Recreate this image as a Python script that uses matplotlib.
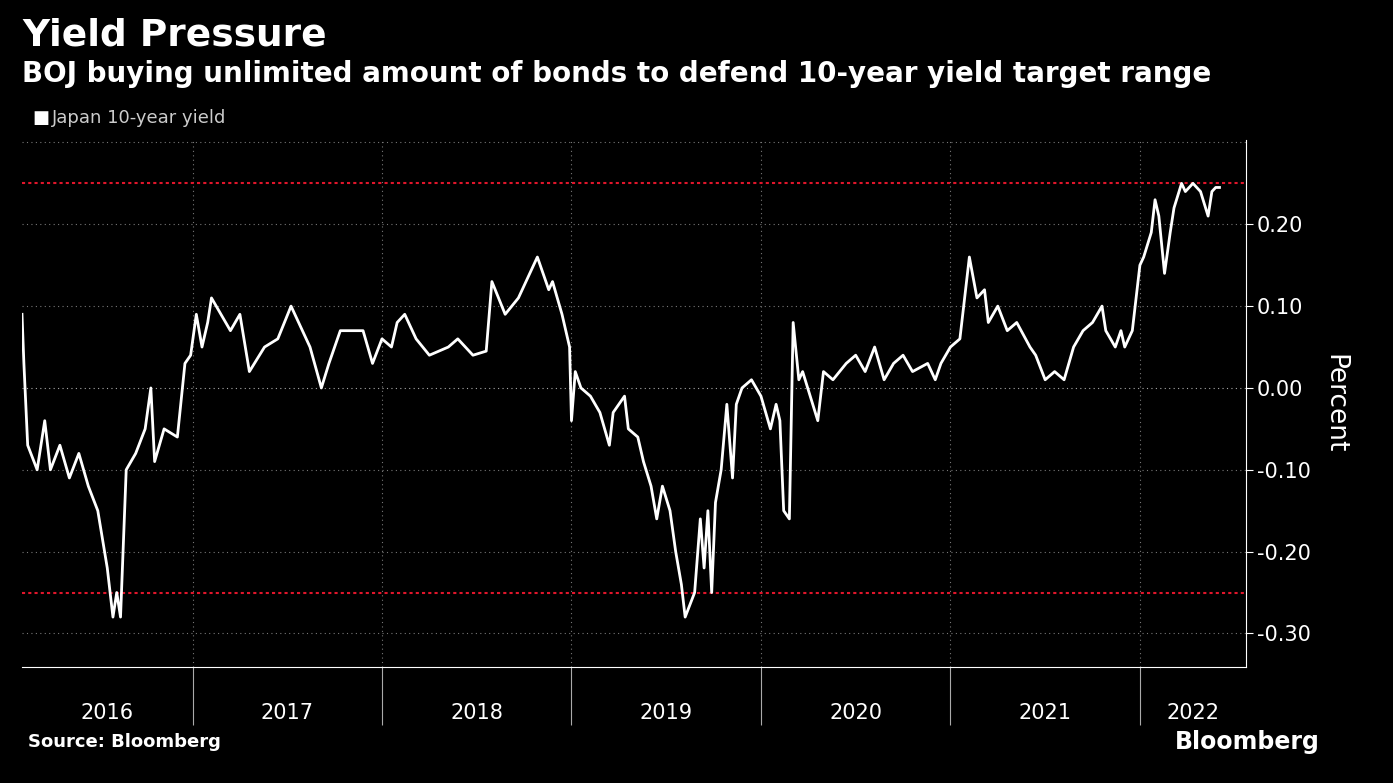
import matplotlib.pyplot as plt
import numpy as np

# Japan 10-year yield (decimal year, percent)
years = [2016.10, 2016.11, 2016.13, 2016.18, 2016.22, 2016.25, 2016.30, 2016.35, 2016.40, 2016.45,
         2016.50, 2016.55, 2016.58, 2016.60, 2016.62, 2016.65, 2016.70, 2016.75, 2016.78, 2016.80,
         2016.85, 2016.92, 2016.96, 2016.99, 2017.02, 2017.05, 2017.08, 2017.10, 2017.20, 2017.25,
         2017.30, 2017.38, 2017.45, 2017.52, 2017.58, 2017.62, 2017.68, 2017.72, 2017.78, 2017.90,
         2017.95, 2018.00, 2018.05, 2018.08, 2018.12, 2018.18, 2018.25, 2018.35, 2018.40, 2018.48,
         2018.55, 2018.58, 2018.65, 2018.72, 2018.80, 2018.82, 2018.88, 2018.90, 2018.95, 2018.99,
         2019.00, 2019.02, 2019.05, 2019.10, 2019.15, 2019.20, 2019.22, 2019.28, 2019.30, 2019.35,
         2019.38, 2019.42, 2019.45, 2019.48, 2019.52, 2019.55, 2019.58, 2019.60, 2019.65, 2019.68,
         2019.70, 2019.72, 2019.74, 2019.76, 2019.79, 2019.82, 2019.85, 2019.87, 2019.90, 2019.95,
         2020.00, 2020.05, 2020.08, 2020.10, 2020.12, 2020.15, 2020.17, 2020.20, 2020.22, 2020.30,
         2020.33, 2020.38, 2020.45, 2020.50, 2020.55, 2020.60, 2020.65, 2020.70, 2020.75, 2020.80,
         2020.88, 2020.92, 2020.95, 2021.00, 2021.05, 2021.10, 2021.14, 2021.18, 2021.20, 2021.25,
         2021.30, 2021.35, 2021.42, 2021.45, 2021.50, 2021.55, 2021.60, 2021.65, 2021.70, 2021.75,
         2021.80, 2021.82, 2021.87, 2021.90, 2021.92, 2021.96, 2022.00, 2022.02, 2022.06, 2022.08,
         2022.10, 2022.13, 2022.16, 2022.18, 2022.22, 2022.24, 2022.28, 2022.32, 2022.36, 2022.38,
         2022.40, 2022.42]
yields = [0.09, 0.03, -0.07, -0.10, -0.04, -0.10, -0.07, -0.11, -0.08, -0.12,
          -0.15, -0.22, -0.28, -0.25, -0.28, -0.10, -0.08, -0.05, 0.00, -0.09,
          -0.05, -0.06, 0.03, 0.04, 0.09, 0.05, 0.08, 0.11, 0.07, 0.09,
          0.02, 0.05, 0.06, 0.10, 0.07, 0.05, 0.00, 0.03, 0.07, 0.07,
          0.03, 0.06, 0.05, 0.08, 0.09, 0.06, 0.04, 0.05, 0.06, 0.04,
          0.045, 0.13, 0.09, 0.11, 0.15, 0.16, 0.12, 0.13, 0.09, 0.05,
          -0.04, 0.02, 0.00, -0.01, -0.03, -0.07, -0.03, -0.01, -0.05, -0.06,
          -0.09, -0.12, -0.16, -0.12, -0.15, -0.20, -0.24, -0.28, -0.25, -0.16,
          -0.22, -0.15, -0.25, -0.14, -0.10, -0.02, -0.11, -0.02, 0.00, 0.01,
          -0.01, -0.05, -0.02, -0.04, -0.15, -0.16, 0.08, 0.01, 0.02, -0.04,
          0.02, 0.01, 0.03, 0.04, 0.02, 0.05, 0.01, 0.03, 0.04, 0.02,
          0.03, 0.01, 0.03, 0.05, 0.06, 0.16, 0.11, 0.12, 0.08, 0.10,
          0.07, 0.08, 0.05, 0.04, 0.01, 0.02, 0.01, 0.05, 0.07, 0.08,
          0.10, 0.07, 0.05, 0.07, 0.05, 0.07, 0.15, 0.16, 0.19, 0.23,
          0.21, 0.14, 0.19, 0.22, 0.25, 0.24, 0.25, 0.24, 0.21, 0.24,
          0.245, 0.245]
target_band = [-0.25, 0.25]
y_ticks = [-0.30, -0.20, -0.10, 0.00, 0.10, 0.20]
year_labels = ["2016", "2017", "2018", "2019", "2020", "2021", "2022"]

W, H = 1393, 783
fig = plt.figure(figsize=(W / 100, H / 100), dpi=100, facecolor="black")
ax = fig.add_axes([22 / W, 1 - 667 / H, 1224 / W, 527 / H], facecolor="black")

x0, x1 = 2016.10, 2022.56
ax.set_xlim(x0, x1)
ax.set_ylim(-0.341, 0.303)

for v in np.arange(-0.3, 0.31, 0.1):
    ax.axhline(v, color="#777777" if abs(v) > 1e-9 else "#aaaaaa",
               ls=(0, (1, 3)), lw=0.8, zorder=1)
for b in range(2017, 2023):
    ax.axvline(b, color="#777777", ls=(0, (1, 3)), lw=0.8, zorder=1)
for v in target_band:
    ax.axhline(v, color="#e0162b", ls=(0, (1.5, 1.5)), lw=1.5, zorder=2)

ax.plot(years, yields, color="white", lw=2, zorder=3)

for s in ["top", "left"]:
    ax.spines[s].set_visible(False)
ax.spines["right"].set_color("white")
ax.spines["bottom"].set_color("white")
ax.yaxis.tick_right()
ax.set_yticks(y_ticks)
ax.set_yticklabels([f"{v:.2f}" for v in y_ticks])
ax.tick_params(axis="y", colors="white", labelsize=15, length=5, pad=3)
ax.yaxis.set_label_position("right")
ax.set_ylabel("Percent", color="white", fontsize=19, rotation=270, labelpad=26)

mids = [max(x0, int(y)) + (min(x1, int(y) + 1) - max(x0, int(y))) / 2 for y in year_labels]
ax.set_xticks(mids)
ax.set_xticklabels(year_labels)
ax.set_xticks(list(range(2017, 2023)), minor=True)
ax.tick_params(axis="x", which="major", length=0, colors="white", labelsize=15, pad=26)
ax.tick_params(axis="x", which="minor", length=42, color="#aaaaaa", width=0.8)

fig.text(22 / W, 1 - 35 / H, "Yield Pressure", color="white", fontsize=27,
         fontweight="bold", va="center")
fig.text(22 / W, 1 - 74 / H, "BOJ buying unlimited amount of bonds to defend 10-year yield target range",
         color="white", fontsize=20, fontweight="bold", va="center")
fig.text(32 / W, 1 - 118 / H, "\u25a0", color="white", fontsize=13, va="center")
fig.text(52 / W, 1 - 118 / H, "Japan 10-year yield", color="#cccccc", fontsize=13, va="center")
fig.text(28 / W, 1 - 742 / H, "Source: Bloomberg", color="white", fontsize=13,
         fontweight="bold", va="center")
fig.text(1320 / W, 1 - 742 / H, "Bloomberg", color="white", fontsize=17,
         fontweight="bold", va="center", ha="right")

fig.savefig("out.png", dpi=100, facecolor="black")
